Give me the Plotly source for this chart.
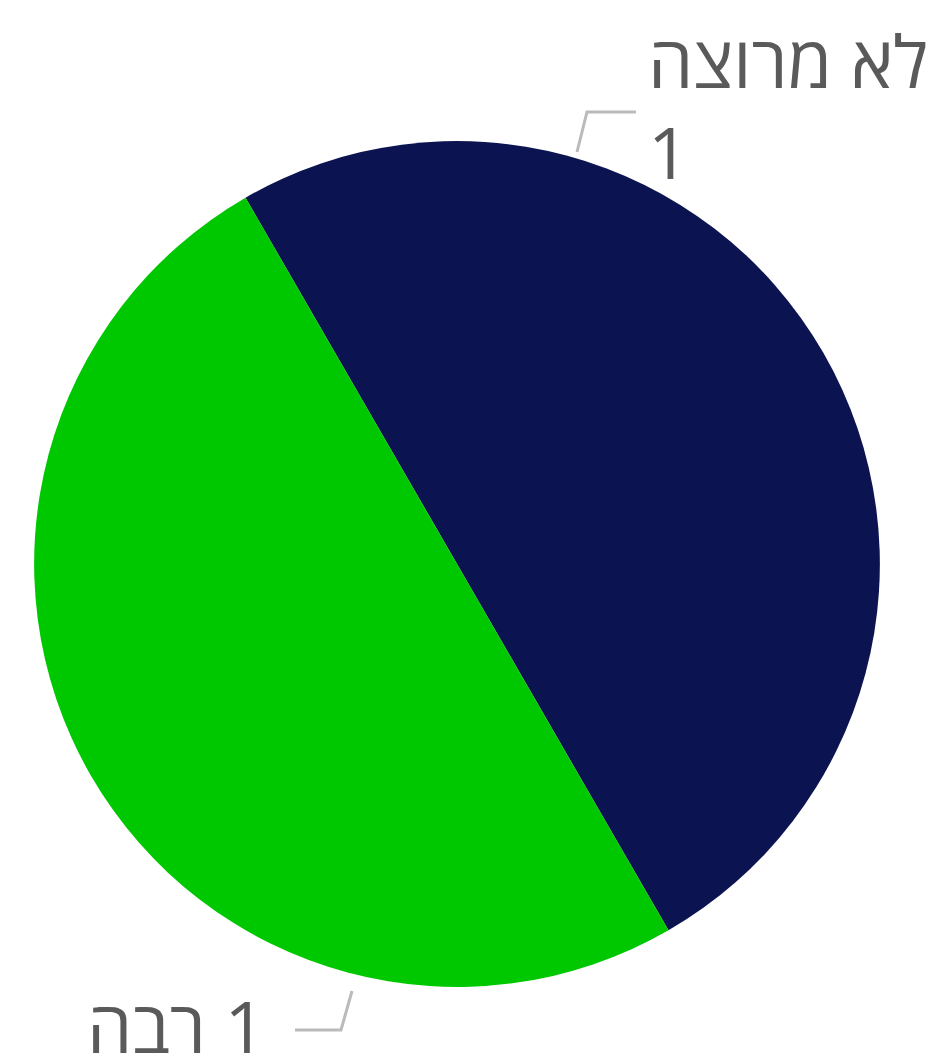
import plotly.graph_objects as go

labels = ["לא מרוצה", "רבה"]
values = [1, 1]
colors = ["#0b1350", "#00c800"]

W, H = 934, 1057
cx, cy, r = 449, 556, 423

def px(x):
    return x / W

def py(y):
    return 1 - y / H

fig = go.Figure(go.Pie(
    labels=labels,
    values=values,
    sort=False,
    direction="clockwise",
    rotation=-30,
    marker=dict(colors=colors, line=dict(width=0)),
    textinfo="none",
    hoverinfo="skip",
    showlegend=False,
    domain=dict(x=[px(cx - r), px(cx + r)], y=[py(cy + r), py(cy - r)]),
))

font = dict(family="Open Sans, DejaVu Sans, sans-serif", size=72, color="#5a5a5a")
line_col = "#bababa"

# leader lines
fig.add_shape(type="path", xref="paper", yref="paper",
              path=f"M {px(569)} {py(144)} L {px(579)} {py(104)} L {px(628)} {py(104)}",
              line=dict(color=line_col, width=3))
fig.add_shape(type="path", xref="paper", yref="paper",
              path=f"M {px(344)} {py(983)} L {px(333)} {py(1022)} L {px(287)} {py(1022)}",
              line=dict(color=line_col, width=3))

fig.add_annotation(x=px(638), y=py(52), xref="paper", yref="paper",
                   text=labels[0], showarrow=False,
                   xanchor="left", yanchor="middle", align="left", font=font)
fig.add_annotation(x=px(638), y=py(143), xref="paper", yref="paper",
                   text=str(values[0]), showarrow=False,
                   xanchor="left", yanchor="middle", align="left", font=font)
fig.add_annotation(x=px(260), y=py(1017), xref="paper", yref="paper",
                   text=f"{labels[1]}\u200e {values[1]}", showarrow=False,
                   xanchor="right", yanchor="middle", align="right", font=font)

fig.update_layout(width=W, height=H, margin=dict(l=0, r=0, t=0, b=0),
                  paper_bgcolor="white", plot_bgcolor="white")

fig.write_html("out.html")
